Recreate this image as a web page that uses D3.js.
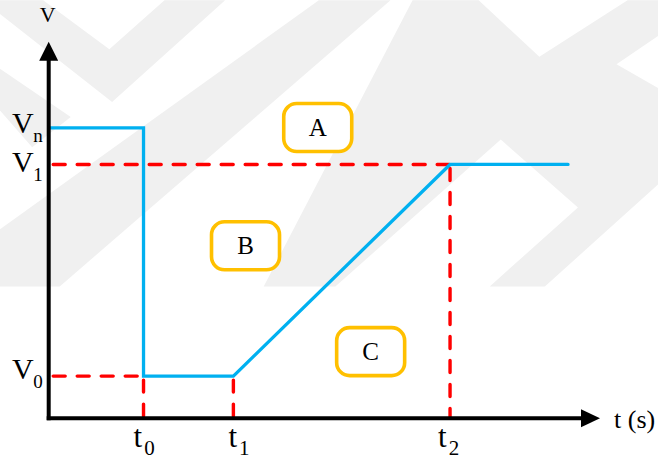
<!DOCTYPE html>
<html>
<head>
<meta charset="utf-8">
<script src="https://cdn.jsdelivr.net/npm/d3@7"></script>
<style>
  body { margin: 0; background: #fff; }
  svg { display: block; }
</style>
</head>
<body>
<svg id="chart"></svg>
<script>
// time marks (arbitrary units) and their labels
const timeKeys = ["0", "1", "2"];
const timeValues = [1.72, 3.35, 7.28];
const timeEnd = 9.42;
const timeMax = 10;

// voltage levels and labels
const voltKeys = ["n", "1", "0"];
const voltValues = [7.71, 6.74, 1.12];
const voltMax = 10;

// region boxes: label, centre time, centre voltage
const regionLabels = ["A", "B", "C"];
const regionT = [4.88, 3.57, 5.84];
const regionV = [7.72, 4.58, 1.77];

// faint watermark bands, as [time, volt] corners
const watermark = [
  [[-1.2, 11.1], [-0.1, 11.1], [1.1, 9.8], [2.1, 11.1], [3.2, 11.1], [1.15, 8.4]],
  [[-0.9, 3.5], [-0.9, 5.0], [4.9, 11.1], [6.2, 11.1], [0.2, 3.5]],
  [[3.9, 3.5], [5.2, 3.5], [8.2, 7.4], [9.6, 5.6], [8.0, 3.5], [9.0, 3.5], [11.5, 6.8], [11.5, 8.4], [10.3, 9.4], [12, 11.1], [10.5, 11.1], [8.9, 9.6], [7.8, 11.1], [6.6, 11.1]],
  [[-0.9, 8.2], [-0.9, 9.3], [0.4, 8.0], [-0.3, 7.2]]
];

const serif = "'Liberation Serif', 'Times New Roman', Times, serif";

const W = 658, H = 462;
const svg = d3.select("#chart").attr("width", W).attr("height", H)
  .attr("font-family", serif);

const x = d3.scaleLinear().domain([0, timeMax]).range([48.7, 600]);
const y = d3.scaleLinear().domain([0, voltMax]).range([418.3, 41.7]);

// watermark
svg.append("g").selectAll("path")
  .data(watermark)
  .join("path")
  .attr("d", d => d3.line().x(p => x(p[0])).y(p => y(p[1])).curve(d3.curveLinearClosed)(d))
  .attr("fill", "#f0f0f0");

const chart = svg.append("g");

// red dashed guide lines
const guides = [
  [[0, voltValues[1]], [timeValues[2], voltValues[1]]],
  [[0, voltValues[2]], [timeValues[0], voltValues[2]]],
  [[timeValues[0], voltValues[2]], [timeValues[0], 0]],
  [[timeValues[1], voltValues[2]], [timeValues[1], 0]],
  [[timeValues[2], voltValues[1]], [timeValues[2], 0]]
];
chart.selectAll(".guide")
  .data(guides)
  .join("line")
  .attr("class", "guide")
  .attr("x1", d => x(d[0][0]) + (d[0][0] === 0 ? 4.5 : 0))
  .attr("y1", d => y(d[0][1]) + (d[0][0] === d[1][0] ? 4 : 0))
  .attr("x2", d => x(d[1][0]))
  .attr("y2", d => y(d[1][1]))
  .attr("stroke", "#ff0000")
  .attr("stroke-width", 3.4)
  .attr("stroke-linecap", "round")
  .attr("stroke-dasharray", "12,12");

// voltage profile
const profile = [
  [0, voltValues[0]], [timeValues[0], voltValues[0]],
  [timeValues[0], voltValues[2]], [timeValues[1], voltValues[2]],
  [timeValues[2], voltValues[1]], [timeEnd, voltValues[1]]
];
chart.append("path")
  .datum(profile)
  .attr("fill", "none")
  .attr("stroke", "#00b0f0")
  .attr("stroke-width", 3.3)
  .attr("stroke-linecap", "round")
  .attr("d", d3.line().x(d => x(d[0])).y(d => y(d[1])));

// axes with arrow heads
chart.append("line")
  .attr("x1", x(0)).attr("y1", y(0) + 2)
  .attr("x2", x(0)).attr("y2", y(voltMax) + 16)
  .attr("stroke", "#000").attr("stroke-width", 4);
chart.append("line")
  .attr("x1", x(0) - 2).attr("y1", y(0))
  .attr("x2", x(timeMax) - 16).attr("y2", y(0))
  .attr("stroke", "#000").attr("stroke-width", 4);
chart.append("path")
  .attr("d", `M${x(0)},${y(voltMax)}L${x(0) + 9.5},${y(voltMax) + 19}L${x(0) - 9.5},${y(voltMax) + 19}Z`)
  .attr("fill", "#000");
chart.append("path")
  .attr("d", `M${x(timeMax)},${y(0)}L${x(timeMax) - 19},${y(0) - 9}L${x(timeMax) - 19},${y(0) + 9}Z`)
  .attr("fill", "#000");

// axis titles
chart.append("text")
  .attr("x", x(0) - 1).attr("y", 22)
  .attr("text-anchor", "middle")
  .style("font-size", "22px")
  .text("V");
chart.append("text")
  .attr("x", 614).attr("y", 428)
  .style("font-size", "26px")
  .text("t (s)");

// voltage labels
const vLab = chart.selectAll(".vlab")
  .data(voltKeys)
  .join("text")
  .attr("class", "vlab")
  .attr("x", 12)
  .attr("y", (d, i) => y(voltValues[i]) + [5.5, 7.5, 2.5][i])
  .style("font-size", "30px");
vLab.append("tspan").text("V");
vLab.append("tspan")
  .attr("dx", -0.5)
  .attr("dy", (d, i) => [8.5, 9.5, 9.7][i])
  .style("font-size", "19px")
  .text(d => d);

// time labels
const tLab = chart.selectAll(".tlab")
  .data(timeKeys)
  .join("text")
  .attr("class", "tlab")
  .attr("x", (d, i) => x(timeValues[i]) + [-10, -5, -12][i])
  .attr("y", 447)
  .style("font-size", "31px");
tLab.append("tspan").text("t");
tLab.append("tspan")
  .attr("dx", 2)
  .attr("dy", 8)
  .style("font-size", "21px")
  .text(d => d);

// region boxes
const box = chart.selectAll(".region")
  .data(regionLabels)
  .join("g")
  .attr("class", "region")
  .attr("transform", (d, i) => `translate(${x(regionT[i])},${y(regionV[i])})`);
box.append("rect")
  .attr("x", -34).attr("y", -24)
  .attr("width", 68).attr("height", 48)
  .attr("rx", 13).attr("ry", 13)
  .attr("fill", "#fff")
  .attr("stroke", "#ffc000")
  .attr("stroke-width", 3.6);
box.append("text")
  .attr("text-anchor", "middle")
  .attr("y", 8.5)
  .style("font-size", "25px")
  .text(d => d);
</script>
</body>
</html>
